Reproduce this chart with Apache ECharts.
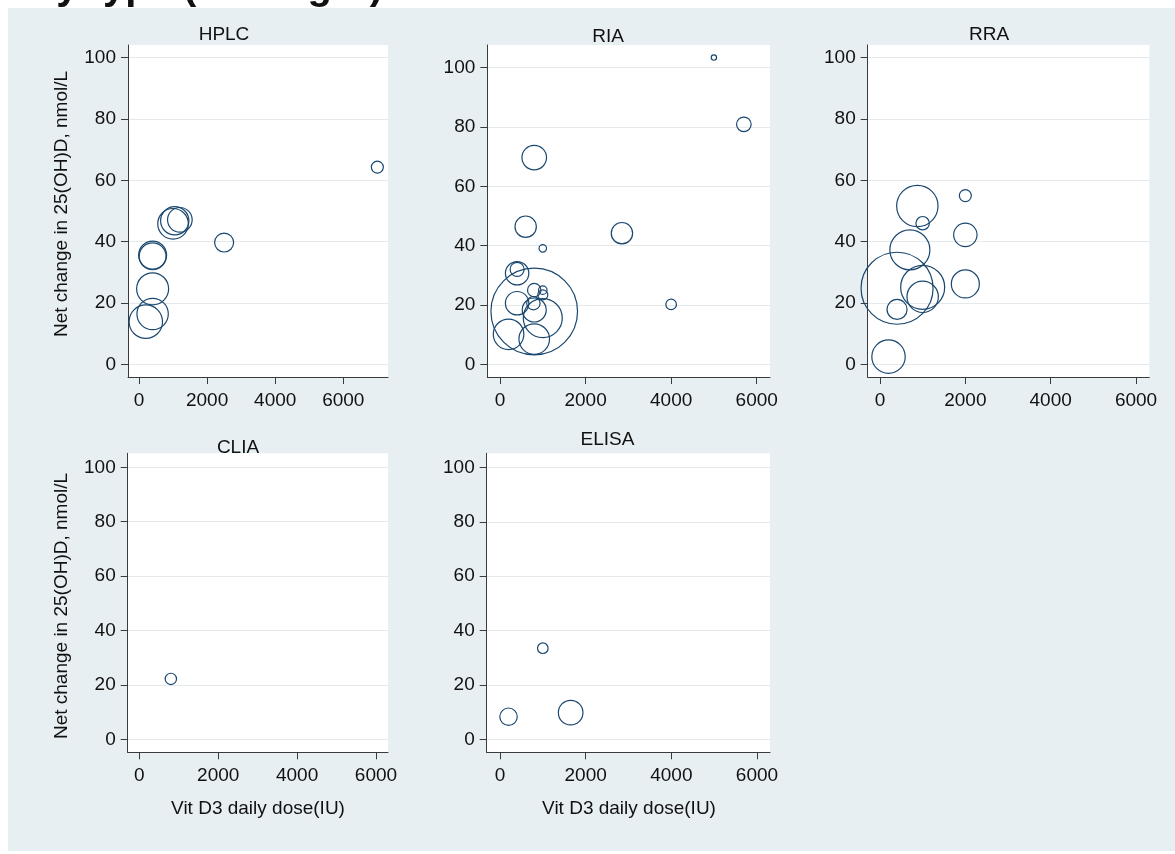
<!DOCTYPE html>
<html>
<head>
<meta charset="utf-8">
<script src="https://cdn.jsdelivr.net/npm/echarts@6/dist/echarts.min.js"></script>
<style>
html,body{margin:0;padding:0;background:#ffffff;}
#chart{width:1175px;height:854px;}
</style>
</head>
<body>
<div id="chart"></div>
<script>
// ---- Data (dose IU, net change nmol/L, study weight) ----
const panelNames = ['HPLC', 'RIA', 'RRA', 'CLIA', 'ELISA'];

const hplcDose   = [7000, 2500, 1000, 1050, 1200, 400, 400, 400, 400, 200];
const hplcChange = [64.3, 39.7, 45.8, 46.8, 47.1, 35.6, 35.2, 24.6, 16.4, 13.9];
const hplcWeight = [36, 90, 234, 200, 152, 196, 180, 256, 246, 279];

const riaDose   = [5000, 5700, 800, 600, 1000, 2850, 4000, 400, 400, 800, 200, 800, 1000, 400, 800, 780, 800, 1000, 1000];
const riaChange = [103.4, 80.9, 69.7, 46.4, 39.1, 44.2, 20.2, 30.7, 32.0, 17.8, 10.1, 8.5, 15.6, 20.6, 18.3, 20.6, 25.0, 25.0, 23.4];
const riaWeight = [7, 53, 151, 114, 14, 114, 28, 137, 49, 1875, 234, 234, 380, 137, 144, 45, 45, 18, 25];

const rraDose   = [875, 1000, 2000, 2000, 700, 400, 1000, 1000, 2000, 400, 200];
const rraChange = [51.6, 46.0, 55.0, 42.2, 37.3, 24.8, 25.1, 22.0, 26.2, 17.9, 2.5];
const rraWeight = [428, 45, 36, 137, 400, 1296, 484, 246, 196, 100, 279];

const cliaDose   = [800];
const cliaChange = [22.2];
const cliaWeight = [32];

const elisaDose   = [1000, 200, 1650];
const elisaChange = [33.5, 8.3, 9.8];
const elisaWeight = [28, 76, 151];

const xTickValues = [0, 2000, 4000, 6000];
const yTickValues = [0, 20, 40, 60, 80, 100];

const yAxisTitle = 'Net change in 25(OH)D, nmol/L';
const xAxisTitle = 'Vit D3 daily dose(IU)';
const topTitle = 'Net change in 25(OH)D by type (in weight)';

// ---- Layout ----
const FONT = '"Liberation Sans", Arial, Helvetica, sans-serif';
const panels = [
  {dose: hplcDose, change: hplcChange, weight: hplcWeight, left: 128, top: 45, width: 260, height: 332, xMin: -323, xMax: 7313, yMin: -4.14, yMax: 104.1, tx: 224, ty: 35},
  {dose: riaDose, change: riaChange, weight: riaWeight, left: 487.3, top: 45, width: 282.7, height: 332, xMin: -297, xMax: 6311, yMin: -4.28, yMax: 107.65, tx: 608, ty: 37},
  {dose: rraDose, change: rraChange, weight: rraWeight, left: 867.7, top: 45, width: 281.6, height: 332, xMin: -288, xMax: 6311, yMin: -4.14, yMax: 104.1, tx: 989, ty: 35},
  {dose: cliaDose, change: cliaChange, weight: cliaWeight, left: 127.7, top: 453.3, width: 260.3, height: 299, xMin: -294, xMax: 6304, yMin: -4.78, yMax: 105.15, tx: 238, ty: 448},
  {dose: elisaDose, change: elisaChange, weight: elisaWeight, left: 486.7, top: 453.3, width: 283.3, height: 299, xMin: -310, xMax: 6304, yMin: -4.79, yMax: 105.2, tx: 607.5, ty: 440}
];

const axisColor = '#3a3a3a';
const grids = [], xAxes = [], yAxes = [], series = [];
const graphics = [
  {type: 'rect', shape: {x: 8, y: 8, width: 1167, height: 843}, style: {fill: '#e8eff2'}, z: -10, silent: true}
];
const plain = v => String(v);

panels.forEach((p, i) => {
  grids.push({left: p.left, top: p.top, width: p.width, height: p.height, show: true, backgroundColor: '#ffffff', borderWidth: 0, containLabel: false});
  xAxes.push({
    type: 'value', gridIndex: i, min: p.xMin, max: p.xMax,
    axisLine: {show: true, onZero: false, lineStyle: {color: axisColor, width: 1}},
    axisTick: {show: true, length: 7, customValues: xTickValues, lineStyle: {color: axisColor, width: 1}},
    axisLabel: {customValues: xTickValues, formatter: plain, fontSize: 19, color: '#111', margin: 14, fontFamily: FONT},
    splitLine: {show: false}
  });
  yAxes.push({
    type: 'value', gridIndex: i, min: p.yMin, max: p.yMax,
    axisLine: {show: true, onZero: false, lineStyle: {color: axisColor, width: 1}},
    axisTick: {show: true, length: 7, customValues: yTickValues, lineStyle: {color: axisColor, width: 1}},
    axisLabel: {customValues: yTickValues, formatter: plain, fontSize: 19, color: '#111', margin: 12, fontFamily: FONT},
    splitLine: {show: true, lineStyle: {color: '#e4e9eb', width: 1}}
  });
  series.push({
    type: 'scatter', xAxisIndex: i, yAxisIndex: i, name: panelNames[i],
    data: p.dose.map((d, k) => [d, p.change[k], p.weight[k]]),
    symbol: 'circle',
    symbolSize: v => 2 * Math.sqrt(v[2]),
    itemStyle: {color: 'rgba(0,0,0,0)', borderColor: '#1a476f', borderWidth: 1.2, opacity: 1},
    emphasis: {disabled: true},
    silent: true,
    z: 3
  });
  graphics.push({type: 'text', x: p.tx, y: p.ty, style: {text: panelNames[i], font: '19px ' + FONT, fill: '#111', align: 'center', verticalAlign: 'middle'}, z: 10});
});

// Axis titles
graphics.push({type: 'text', x: 62, y: 204, rotation: Math.PI / 2, style: {text: yAxisTitle, font: '19px ' + FONT, fill: '#111', align: 'center', verticalAlign: 'middle'}, z: 10});
graphics.push({type: 'text', x: 62, y: 606, rotation: Math.PI / 2, style: {text: yAxisTitle, font: '19px ' + FONT, fill: '#111', align: 'center', verticalAlign: 'middle'}, z: 10});
graphics.push({type: 'text', x: 258, y: 809, style: {text: xAxisTitle, font: '19px ' + FONT, fill: '#111', align: 'center', verticalAlign: 'middle'}, z: 10});
graphics.push({type: 'text', x: 629, y: 809, style: {text: xAxisTitle, font: '19px ' + FONT, fill: '#111', align: 'center', verticalAlign: 'middle'}, z: 10});
// Cropped overall title at the very top
graphics.push({type: 'text', x: 383, y: 8, style: {text: topTitle, font: 'bold 40px ' + FONT, fill: '#111', align: 'right', verticalAlign: 'bottom'}, z: 10});

const chart = echarts.init(document.getElementById('chart'), null, {renderer: 'canvas'});
chart.setOption({
  backgroundColor: 'transparent',
  animation: false,
  grid: grids,
  xAxis: xAxes,
  yAxis: yAxes,
  series: series,
  graphic: {elements: graphics}
});
</script>
</body>
</html>
